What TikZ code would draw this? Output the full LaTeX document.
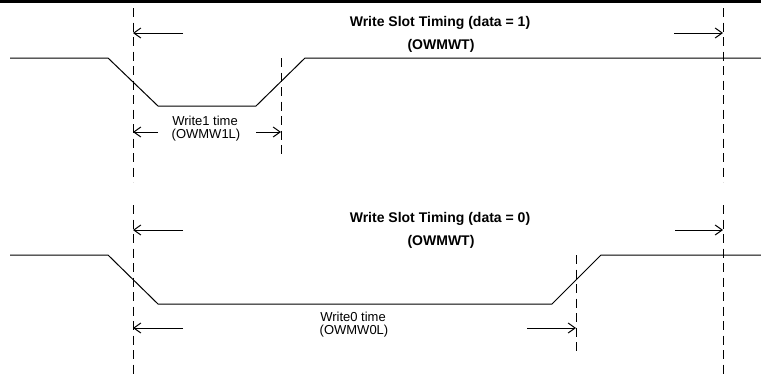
\documentclass[tikz,border=0pt]{standalone}
\usepackage{fontspec}
\setmainfont{Liberation Sans}
\usetikzlibrary{arrows.meta}
\begin{document}
\begin{tikzpicture}[x=1pt,y=-1pt,
  wave/.style={line width=1pt,line join=miter},
  guide/.style={line width=1pt,dash pattern=on 9pt off 5.5pt},
  span/.style={line width=1pt,-{Straight Barb[length=7pt,width=10pt]}},
  heading/.style={font=\fontsize{14}{16}\selectfont\bfseries,inner sep=0pt},
  note/.style={font=\fontsize{13}{15}\selectfont,inner sep=0pt}]
\useasboundingbox (0,0) rectangle (761,378);
% top rule
\fill (0,0) rectangle (761,3);

% ---------- write slot, data = 1 ----------
\coordinate (a0) at (10,58);
\coordinate (a1) at (108,58);
\coordinate (a2) at (158,106);
\coordinate (a3) at (256,106);
\coordinate (a4) at (305,58);
\coordinate (a5) at (761,58);
\draw[wave] (a0) -- (a1) -- (a2) -- (a3) -- (a4) -- (a5);

\coordinate (ga1) at (133,8);   \coordinate (ga2) at (133,182);
\coordinate (gb1) at (281,58);  \coordinate (gb2) at (281,157);
\coordinate (gc1) at (723,8);   \coordinate (gc2) at (723,182);
\draw[guide] (ga1) -- (ga2);
\draw[guide] (gb1) -- (gb2);
\draw[guide] (gc1) -- (gc2);

\coordinate (sa1) at (183,33);  \coordinate (ea1) at (133,33);
\coordinate (sa2) at (674,33);  \coordinate (ea2) at (723,33);
\coordinate (sa3) at (158,132); \coordinate (ea3) at (133,132);
\coordinate (sa4) at (256,132); \coordinate (ea4) at (281,132);
\draw[span] (sa1) -- (ea1);
\draw[span] (sa2) -- (ea2);
\draw[span] (sa3) -- (ea3);
\draw[span] (sa4) -- (ea4);

\node[heading] (t1) at (440,23) {Write Slot Timing (data = 1)};
\node[heading] (t1b) at (441,46) {(OWMWT)};
\node[note] (w1) at (205,121) {Write1 time};
\node[note] (w1b) at (206,135) {(OWMW1L)};

% ---------- write slot, data = 0 ----------
\coordinate (b0) at (10,255);
\coordinate (b1) at (108,255);
\coordinate (b2) at (158,304);
\coordinate (b3) at (552,304);
\coordinate (b4) at (601,255);
\coordinate (b5) at (761,255);
\draw[wave] (b0) -- (b1) -- (b2) -- (b3) -- (b4) -- (b5);

\coordinate (gd1) at (133,205); \coordinate (gd2) at (133,378);
\coordinate (ge1) at (576,255); \coordinate (ge2) at (576,353);
\coordinate (gf1) at (723,205); \coordinate (gf2) at (723,378);
\draw[guide] (gd1) -- (gd2);
\draw[guide] (ge1) -- (ge2);
\draw[guide] (gf1) -- (gf2);

\coordinate (sb1) at (183,230); \coordinate (eb1) at (133,230);
\coordinate (sb2) at (675,230); \coordinate (eb2) at (723,230);
\coordinate (sb3) at (183,328); \coordinate (eb3) at (133,328);
\coordinate (sb4) at (527,328); \coordinate (eb4) at (576,328);
\draw[span] (sb1) -- (eb1);
\draw[span] (sb2) -- (eb2);
\draw[span] (sb3) -- (eb3);
\draw[span] (sb4) -- (eb4);

\node[heading] (t0) at (440,219) {Write Slot Timing (data = 0)};
\node[heading] (t0b) at (441,242) {(OWMWT)};
\node[note] (w0) at (353,317) {Write0 time};
\node[note] (w0b) at (354,331) {(OWMW0L)};
\end{tikzpicture}
\end{document}
